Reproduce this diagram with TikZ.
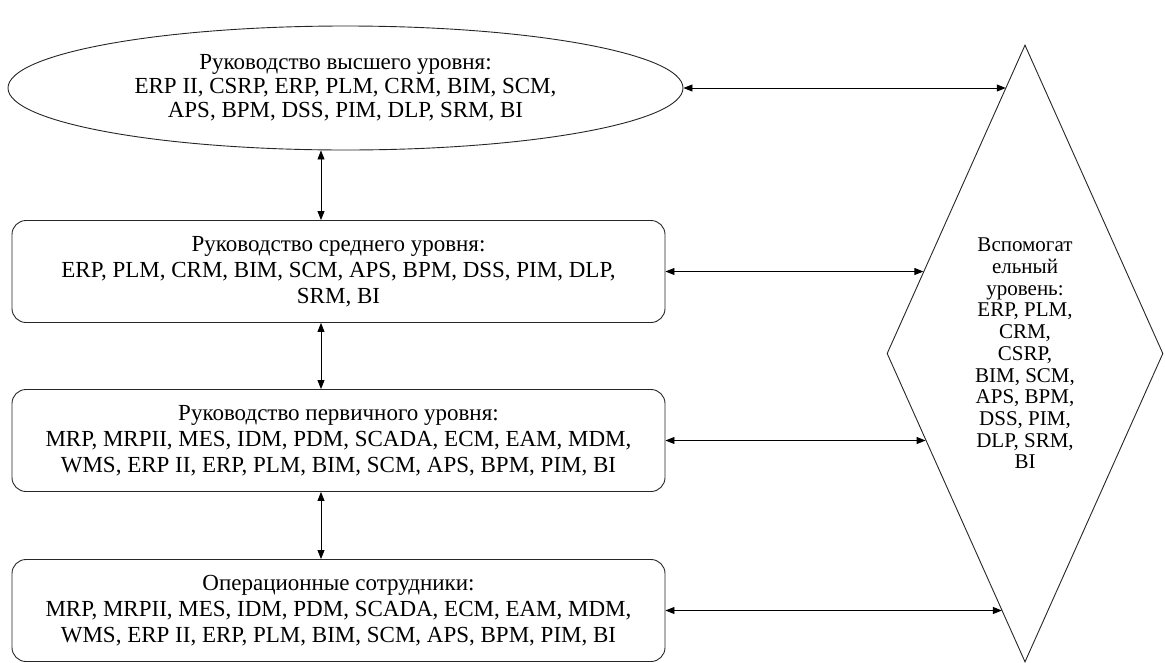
\documentclass[tikz,border=0pt]{standalone}
\usepackage{fontspec}
\setmainfont{Liberation Serif}
\usetikzlibrary{arrows.meta,shapes.geometric,calc}

\begin{document}
\begin{tikzpicture}[x=1pt,y=-1pt,>={Triangle[length=9pt,width=7pt]},
  every node/.style={font=\fontsize{23}{26}\selectfont,align=center,inner sep=0pt},
  lvl/.style={draw=black!85,line width=0.9pt,rounded corners=14pt,minimum width=653pt,minimum height=102pt},
  link/.style={<->,line width=0.9pt}]
  \useasboundingbox (0,0) rectangle (1165,662);
  % levels of management
  \node[draw=black!85,line width=0.9pt,ellipse,minimum width=675pt,minimum height=124pt,
        font=\fontsize{23}{24}\selectfont] (top) at (345.5,88)
    {Руководство высшего уровня:\\ERP II, CSRP, ERP, PLM, CRM, BIM, SCM,\\APS, BPM, DSS, PIM, DLP, SRM, BI};
  \node[lvl] (mid) at (338.5,271.5)
    {Руководство среднего уровня:\\ERP, PLM, CRM, BIM, SCM, APS, BPM, DSS, PIM, DLP,\\SRM, BI};
  \node[lvl] (low) at (338.5,440.5)
    {Руководство первичного уровня:\\MRP, MRPII, MES, IDM, PDM, SCADA, ECM, EAM, MDM,\\WMS, ERP II, ERP, PLM, BIM, SCM, APS, BPM, PIM, BI};
  \node[lvl] (ops) at (338.5,610.5)
    {Операционные сотрудники:\\MRP, MRPII, MES, IDM, PDM, SCADA, ECM, EAM, MDM,\\WMS, ERP II, ERP, PLM, BIM, SCM, APS, BPM, PIM, BI};
  % auxiliary level
  \node[draw=black!85,line width=0.9pt,diamond,aspect=0.447,minimum width=276pt,minimum height=617pt,
        font=\fontsize{21}{21.7}\selectfont] (aux) at (1025,353.5)
    {Вспомогат\\ельный\\уровень:\\ERP, PLM,\\CRM,\\CSRP,\\BIM, SCM,\\APS, BPM,\\DSS, PIM,\\DLP, SRM,\\BI};
  \coordinate (axis) at (321,0);
  \coordinate (e1) at ($(aux.north)!0.139!(aux.west)$);
  \coordinate (e2) at ($(aux.north)!0.734!(aux.west)$);
  \coordinate (e3) at ($(aux.west)!0.282!(aux.south)$);
  \coordinate (e4) at ($(aux.west)!0.833!(aux.south)$);
  % links
  \draw[link] (top.south -| axis) -- (mid.north -| axis);
  \draw[link] (mid.south -| axis) -- (low.north -| axis);
  \draw[link] (low.south -| axis) -- (ops.north -| axis);
  \draw[link] (top.east) -- (top.east -| e1);
  \draw[link] (mid.east) -- (mid.east -| e2);
  \draw[link] (low.east) -- (low.east -| e3);
  \draw[link] (ops.east) -- (ops.east -| e4);
\end{tikzpicture}
\end{document}
